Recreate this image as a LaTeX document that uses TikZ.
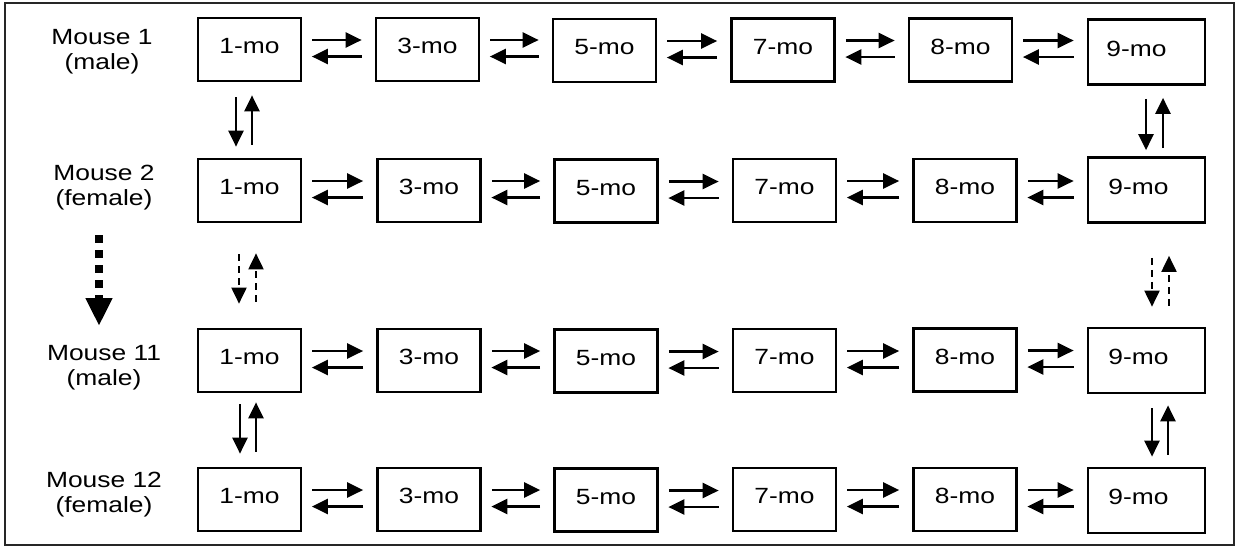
\documentclass[tikz,border=0pt]{standalone}
\usepackage{fontspec}
\setmainfont{Liberation Sans}[FakeStretch=1.2]
\usetikzlibrary{arrows.meta}
\newcommand\diagfont{\fontsize{22}{25}\selectfont}
\begin{document}
\begin{tikzpicture}[x=1pt,y=-1pt,
  box/.style={draw=black, line width=2.7pt, minimum width=103pt, minimum height=63pt,
    inner sep=0pt, text height=15.5pt, text depth=7.5pt, font=\diagfont},
  lastbox/.style={box, minimum width=117pt, minimum height=65pt},
  mouse/.style={align=center, inner sep=0pt, font=\diagfont},
  tip/.style={-{Triangle[length=16pt,width=15pt]}},
  fwd/.style={tip, line width=2.5pt, shorten <=10pt, shorten >=13pt},
  bwd/.style={tip, line width=2.5pt, shorten <=13pt, shorten >=9.5pt},
  vline/.style={tip, line width=2.5pt},
  vdash/.style={tip, line width=2pt, dash pattern=on 7pt off 5pt},
  bigdash/.style={-{Triangle[length=28pt,width=25pt]}, line width=8pt, dash pattern=on 8pt off 7pt}
]
\useasboundingbox (0,0) rectangle (1242,547);
% outer frame
\draw[line width=2.2pt, black!85] (5,3) rectangle (1234,545);

% mouse labels
\node[mouse] (m1)  at (102,52)  {Mouse 1\\(male)};
\node[mouse] (m2)  at (104,188) {Mouse 2\\(female)};
\node[mouse] (m11) at (104,368) {Mouse 11\\(male)};
\node[mouse] (m12) at (104,495) {Mouse 12\\(female)};

% row 1
\node[box] (a1) at (249.5,49.5) {1-mo};
\node[box] (a2) at (427.5,49.5) {3-mo};
\node[box] (a3) at (604.5,50.5) {5-mo};
\node[box] (a4) at (783,50) {7-mo};
\node[box] (a5) at (960.5,50) {8-mo};
\node[lastbox] (a6) at (1146.5,52) {9-mo\hspace*{20pt}};

% row 2
\node[box] (b1) at (249.5,190.5) {1-mo};
\node[box] (b2) at (429,190.5) {3-mo};
\node[box] (b3) at (606,191) {5-mo};
\node[box] (b4) at (784.5,190.5) {7-mo};
\node[box] (b5) at (965,190.5) {8-mo};
\node[lastbox] (b6) at (1146.5,190) {9-mo\hspace*{16pt}};

% row 3
\node[box] (c1) at (249.5,360.5) {1-mo};
\node[box] (c2) at (429,360.5) {3-mo};
\node[box] (c3) at (606,361) {5-mo};
\node[box] (c4) at (784.5,360.5) {7-mo};
\node[box] (c5) at (965,360) {8-mo};
\node[lastbox] (c6) at (1146.5,360.5) {9-mo\hspace*{16pt}};

% row 4
\node[box] (d1) at (249.5,499.5) {1-mo};
\node[box] (d2) at (429,499.5) {3-mo};
\node[box] (d3) at (606,500) {5-mo};
\node[box] (d4) at (784.5,499.5) {7-mo};
\node[box] (d5) at (965,499.5) {8-mo};
\node[lastbox] (d6) at (1146.5,500.5) {9-mo\hspace*{16pt}};

% reversible steps along each row
\foreach \r in {a,b,c,d}{
  \foreach \i/\j in {1/2,2/3,3/4,4/5,5/6}{
    \draw[fwd] ([yshift=9.5pt]\r\i.east) -- ([yshift=9.5pt]\r\i.east -| \r\j.west);
    \draw[bwd] ([yshift=-7pt]\r\i.east -| \r\j.west) -- ([yshift=-7pt]\r\i.east);
  }
}

% links between mice, first column
\draw[vline, shorten <=15pt, shorten >=11pt] ([xshift=-13.5pt]a1.south) -- ([xshift=-13.5pt]a1.south |- b1.north);
\draw[vline, shorten <=13pt, shorten >=13pt] ([xshift=2.5pt]b1.north) -- ([xshift=2.5pt]b1.north |- a1.south);
\draw[vdash, shorten <=31pt, shorten >=24pt] ([xshift=-10.5pt]b1.south) -- ([xshift=-10.5pt]b1.south |- c1.north);
\draw[vdash, shorten <=26pt, shorten >=30pt] ([xshift=6.5pt]c1.north) -- ([xshift=6.5pt]c1.north |- b1.south);
\draw[vline, shorten <=11pt, shorten >=13pt] ([xshift=-9.5pt]c1.south) -- ([xshift=-9.5pt]c1.south |- d1.north);
\draw[vline, shorten <=15pt, shorten >=9pt] ([xshift=6.5pt]d1.north) -- ([xshift=6.5pt]d1.north |- c1.south);

% links between mice, last column
\draw[vline, shorten <=13pt, shorten >=6pt] ([xshift=-0.5pt]a6.south) -- ([xshift=-0.5pt]a6.south |- b6.north);
\draw[vline, shorten <=8pt, shorten >=12pt] ([xshift=16.5pt]b6.north) -- ([xshift=16.5pt]b6.north |- a6.south);
\draw[vdash, shorten <=34pt, shorten >=20pt] ([xshift=5.5pt]b6.south) -- ([xshift=5.5pt]b6.south |- c6.north);
\draw[vdash, shorten <=21pt, shorten >=32pt] ([xshift=22.5pt]c6.north) -- ([xshift=22.5pt]c6.north |- b6.south);
\draw[vline, shorten <=14pt, shorten >=10pt] ([xshift=5.5pt]c6.south) -- ([xshift=5.5pt]c6.south |- d6.north);
\draw[vline, shorten <=12pt, shorten >=11pt] ([xshift=21.5pt]d6.north) -- ([xshift=21.5pt]d6.north |- c6.south);

% further mice in between
\coordinate (skipfrom) at (99,235);
\coordinate (skipto) at (99,326);
\draw[bigdash] (skipfrom) -- (skipto);
\end{tikzpicture}
\end{document}
